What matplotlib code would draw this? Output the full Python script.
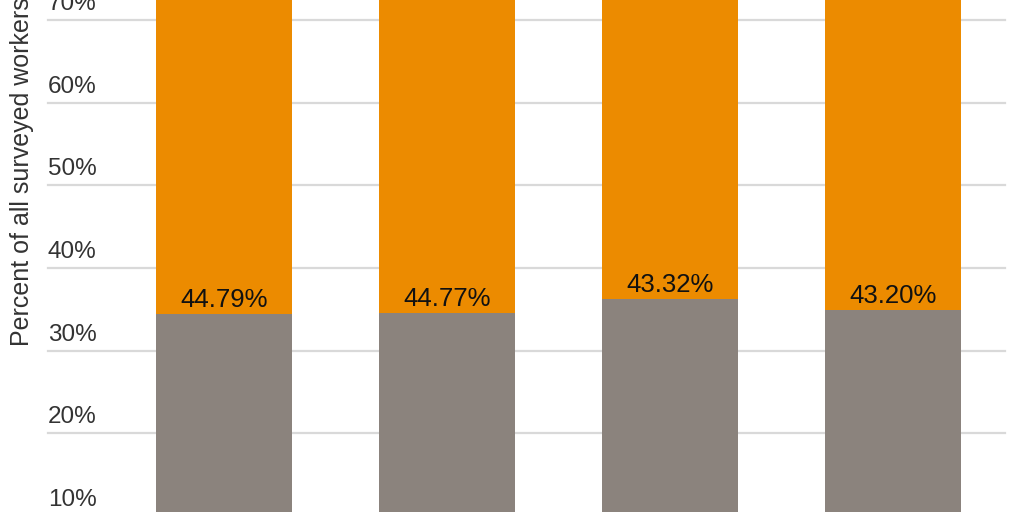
import matplotlib
matplotlib.use("Agg")
import matplotlib.pyplot as plt
import matplotlib.transforms as mtransforms

plt.rcParams["font.family"] = ["Liberation Sans", "DejaVu Sans"]

# data
positions = [0, 1, 2, 3]
gray_share = [34.4, 34.6, 36.3, 34.9]
orange_share = [65.6, 65.4, 63.7, 65.1]
bar_labels = ["44.79%", "44.77%", "43.32%", "43.20%"]
grid_values = [10, 20, 30, 40, 50, 60, 70]
grid_labels = ["10%", "20%", "30%", "40%", "50%", "60%", "70%"]

gray = "#8b837d"
orange = "#ec8b00"

fig = plt.figure(figsize=(10.24, 5.12), dpi=100)
ax = fig.add_axes([0, 0, 1, 1])
ax.set_axis_off()

# gridlines + labels sitting above them
shift = mtransforms.ScaledTranslation(0, 5 / 100, fig.dpi_scale_trans)
for v, lab in zip(grid_values, grid_labels):
    ax.axhline(v, xmin=48 / 1024, xmax=1005 / 1024, color="#d9d9d9", lw=1.6, zorder=0)
    ax.text(48 / 1024, v, lab, transform=ax.get_yaxis_transform() + shift,
            ha="left", va="bottom", fontsize=17.5, color="#333333", zorder=1)

ax.bar(positions, gray_share, width=0.61, color=gray, zorder=2)
ax.bar(positions, orange_share, width=0.61, bottom=gray_share, color=orange, zorder=2)

for x, g, lab in zip(positions, gray_share, bar_labels):
    ax.annotate(lab, (x, g), xytext=(0, 1.5), textcoords="offset points",
                ha="center", va="bottom", fontsize=18.5, color="#111111", zorder=3)

fig.text(22 / 1024, 1 - 346 / 512, "Percent of all surveyed workers", rotation=90,
         ha="center", va="bottom", fontsize=18, color="#333333")

ax.set_xlim(-224 / 223, (1024 - 224) / 223)
ax.set_ylim(10.5, 72.4)

fig.savefig("out.png", dpi=100)
